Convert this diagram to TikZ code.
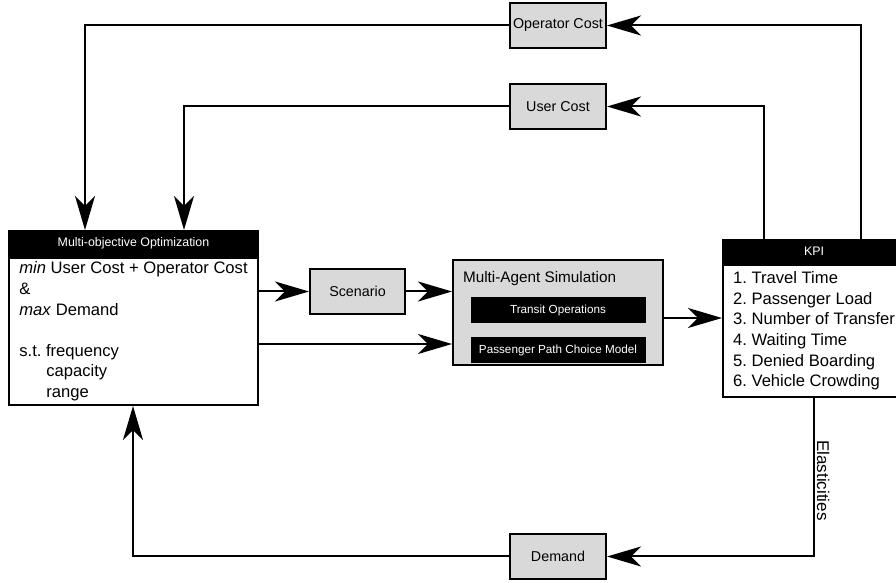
\documentclass[tikz,border=0pt]{standalone}
\usepackage{fontspec}
\setmainfont{Liberation Sans}
\usetikzlibrary{positioning}
\usetikzlibrary{arrows.meta}

\begin{document}
\begin{tikzpicture}[x=1pt, y=1pt, line width=2pt,
  >={Stealth[length=34pt,width=20pt,inset=10pt]},
  greybox/.style={draw, fill=gray!30, minimum width=96pt, minimum height=45pt, inner sep=2pt, font=\fontsize{14.3}{17}\selectfont},
  headbox/.style={draw, fill=black, text=white, minimum height=25pt, inner sep=0pt, font=\fontsize{12.4}{15}\selectfont},
  listbox/.style={draw, fill=white, align=left, inner xsep=0pt, inner ysep=2pt, font=\fontsize{16.6}{20.6}\selectfont\frenchspacing},
  blackbox/.style={fill=black, text=white, minimum width=175pt, minimum height=26pt, inner sep=0pt, font=\fontsize{11.7}{14}\selectfont}]
\useasboundingbox (0,0) rectangle (896,583);
\clip (0,0) rectangle (896,583);

% optimization block
\node[headbox, minimum width=249pt, anchor=north west] (opthd) at (8,353) {Multi-objective Optimization};
\node[listbox, minimum width=249pt, minimum height=147pt, anchor=north] (opt) at (opthd.south) {\textit{min} User Cost + Operator Cost\\
\&\\
\textit{max} Demand\\[20.6pt]
s.t. frequency\\
\hspace*{27pt}capacity\\
\hspace*{27pt}range};

% kpi block
\node[headbox, minimum width=182pt, minimum height=23pt, anchor=north west] (kpihd) at (722,344) {KPI};
\node[listbox, minimum width=182pt, minimum height=132pt, anchor=north] (kpi) at (kpihd.south) {1. Travel Time\\
2. Passenger Load\\
3. Number of Transfer\\
4. Waiting Time\\
5. Denied Boarding\\
6. Vehicle Crowding};

% simulation block
\node[greybox, minimum width=210pt, minimum height=105pt] (sim) at (558,270.5) {};
\node[anchor=base west, inner sep=0pt, font=\fontsize{15.3}{18}\selectfont] (simtitle) at ([xshift=10pt,yshift=-24pt]sim.north west) {Multi-Agent Simulation};
\node[blackbox] (transit) at (558,273) {Transit Operations};
\node[blackbox, below=12pt of transit] (pathmodel) {Passenger Path Choice Model};

% small boxes
\node[greybox, minimum width=95pt] (scen) at (357.5,291.5) {Scenario};
\node[greybox] (opcost) at (558,557.5) {Operator Cost};
\node[greybox] (usercost) at (558,476.5) {User Cost};
\node[greybox] (demand) at (558,26.5) {Demand};

% connectors
\draw[->] (opt.east |- scen.west) -- (scen.west);
\draw[->] (scen.east) -- (scen.east -| sim.west);
\draw[->] ([yshift=-12.5pt]opt.east) -- ([yshift=-12.5pt]opt.east -| sim.west);
\draw[->] ([yshift=-5.5pt]sim.east) -- ([yshift=-5.5pt]sim.east -| kpi.west);
\draw[->] ([xshift=139pt]kpihd.north west) |- (opcost.east);
\draw[->] ([xshift=42pt]kpihd.north west) |- (usercost.east);
\draw[->] (opcost.west) -| ([xshift=77pt]opthd.north west);
\draw[->] (usercost.west) -| ([xshift=176pt]opthd.north west);
\draw[->] ([xshift=92pt]kpi.south west) |- node[pos=0.26, rotate=-90, anchor=south, inner sep=2pt, font=\fontsize{17}{20}\selectfont] {Elasticities} (demand.east);
\draw[->] (demand.west) -| ([xshift=125pt]opt.south west);
\end{tikzpicture}
\end{document}
